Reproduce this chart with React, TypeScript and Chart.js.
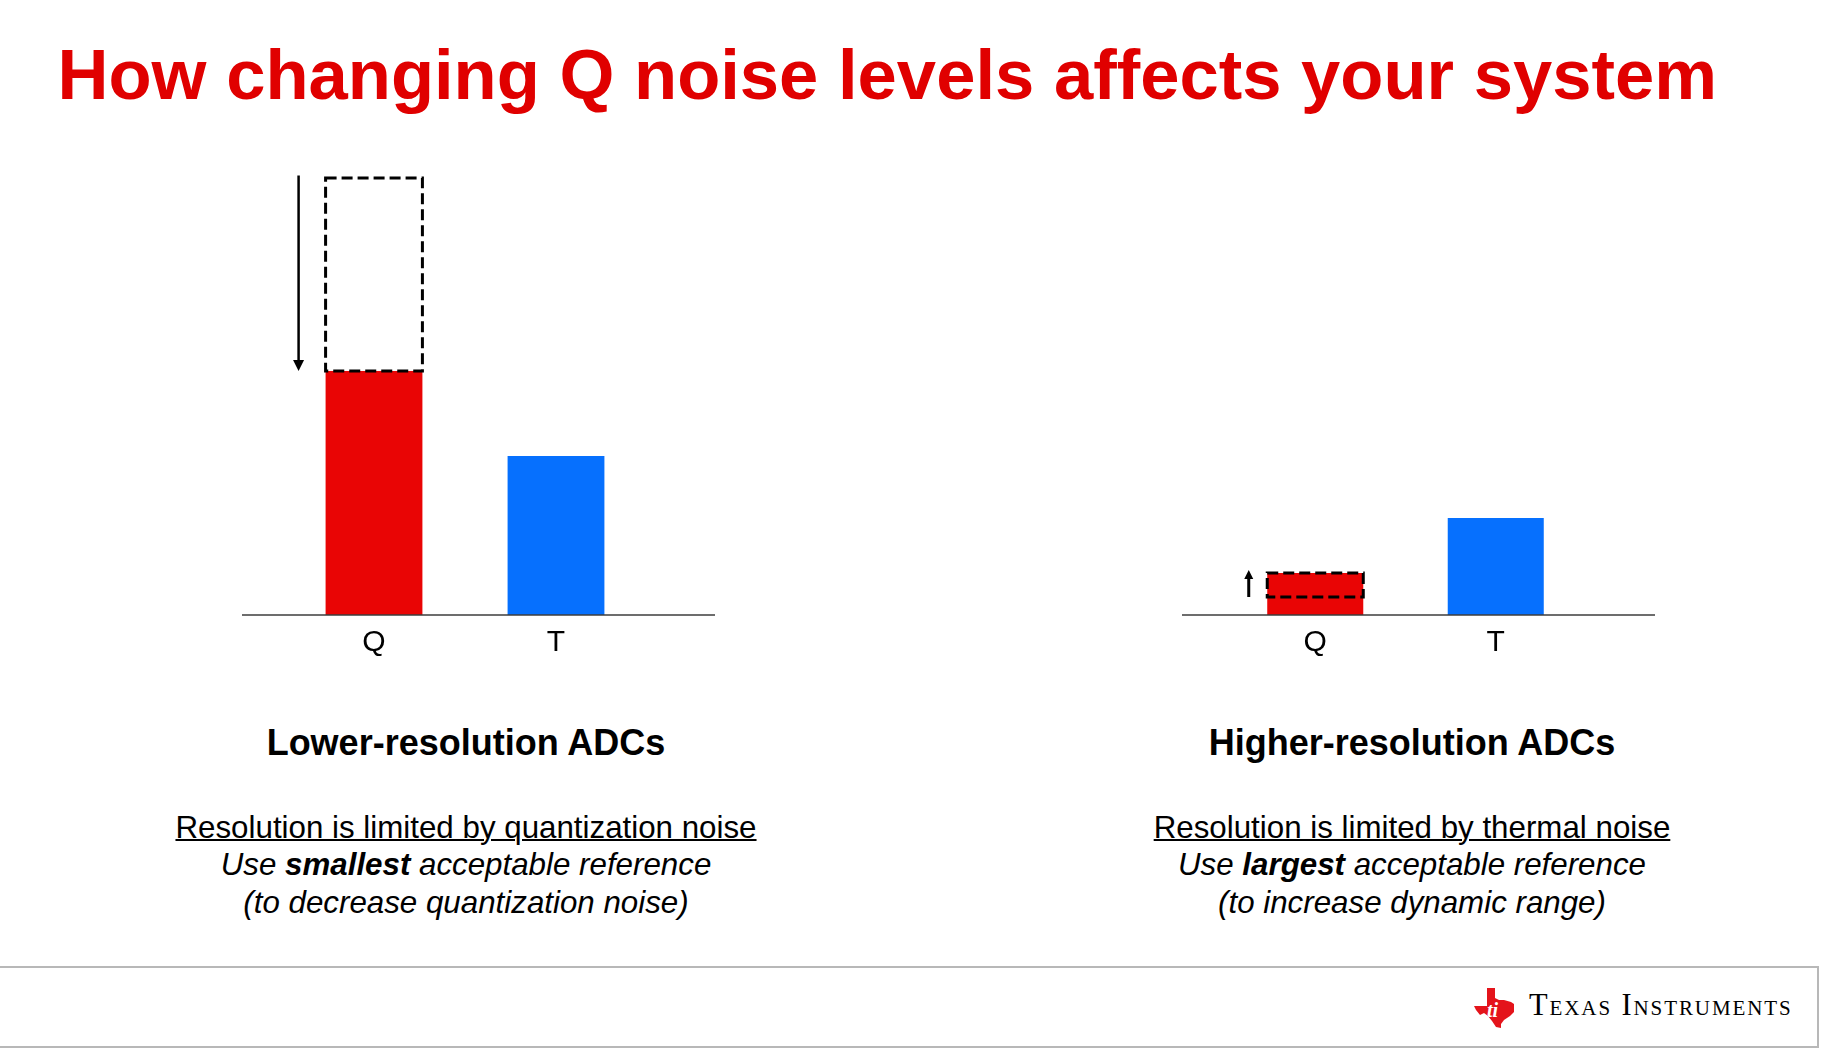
import React, { useEffect, useRef } from 'react';
import { Chart, registerables } from 'chart.js';

Chart.register(...registerables);

// ---- data ----
const categories = ['Q', 'T'];
const lowerResValues = [24.4, 15.9]; // current Q noise, thermal noise
const lowerResPrevQ = 43.7; // previous Q noise level (dashed)
const higherResValues = [4.2, 9.7];
const higherResPrevQ = 1.8;
const yMax = 44.5;

const titleText = 'How changing Q noise levels affects your system';
const leftHeading = 'Lower-resolution ADCs';
const leftLine1 = 'Resolution is limited by quantization noise';
const leftLine2 = ['Use ', 'smallest', ' acceptable reference'];
const leftLine3 = '(to decrease quantization noise)';
const rightHeading = 'Higher-resolution ADCs';
const rightLine1 = 'Resolution is limited by thermal noise';
const rightLine2 = ['Use ', 'largest', ' acceptable reference'];
const rightLine3 = '(to increase dynamic range)';

const RED = '#E90505';
const BLUE = '#0670FE';
const TITLE_RED = '#E00000';
const FONT = '"Liberation Sans", Arial, Helvetica, sans-serif';

const changePlugin = {
  id: 'qChange',
  afterDatasetsDraw(chart: any, _args: any, opts: any) {
    const { ctx } = chart;
    const y = chart.scales.y;
    const bar = chart.getDatasetMeta(0).data[0];
    const { x, width } = bar.getProps(['x', 'width'], true);
    const cur = chart.data.datasets[0].data[0] as number;
    const prev = opts.prev as number;
    const yTop = y.getPixelForValue(Math.max(prev, cur));
    const yBot = y.getPixelForValue(Math.min(prev, cur));
    const l = x - width / 2;
    const r = x + width / 2;
    ctx.save();
    // baseline across the whole panel
    const y0 = y.getPixelForValue(0);
    ctx.strokeStyle = '#3c3c3c';
    ctx.lineWidth = 1.5;
    ctx.beginPath();
    ctx.moveTo(0, y0);
    ctx.lineTo(chart.width, y0);
    ctx.stroke();
    // dashed box marking the change
    ctx.strokeStyle = '#000';
    ctx.fillStyle = '#000';
    ctx.lineWidth = 3;
    ctx.setLineDash([11, 5]);
    ctx.strokeRect(l, yTop, r - l, yBot - yTop);
    ctx.setLineDash([]);
    // arrow from previous to current level
    const ax = l - opts.gap;
    const yFrom = y.getPixelForValue(prev);
    const yTo = y.getPixelForValue(cur) + opts.tipShift;
    const dir = Math.sign(yTo - yFrom);
    ctx.lineWidth = opts.shaft;
    ctx.beginPath();
    ctx.moveTo(ax, yFrom + dir * opts.startInset);
    ctx.lineTo(ax, yTo - dir * opts.headLen * 0.8);
    ctx.stroke();
    ctx.beginPath();
    ctx.moveTo(ax, yTo);
    ctx.lineTo(ax - opts.headW / 2, yTo - dir * opts.headLen);
    ctx.lineTo(ax + opts.headW / 2, yTo - dir * opts.headLen);
    ctx.closePath();
    ctx.fill();
    ctx.restore();
  },
};

type PanelProps = {
  values: number[];
  prevQ: number;
  left: number;
  padLeft: number;
  padRight: number;
  arrow: { gap: number; shaft: number; headLen: number; headW: number; tipShift: number; startInset: number };
};

function Panel({ values, prevQ, left, padLeft, padRight, arrow }: PanelProps) {
  const ref = useRef<HTMLCanvasElement | null>(null);
  useEffect(() => {
    if (!ref.current) return;
    const chart = new Chart(ref.current, {
      type: 'bar',
      data: {
        labels: categories,
        datasets: [
          {
            data: values,
            backgroundColor: [RED, BLUE],
            borderWidth: 0,
            barPercentage: 0.532,
            categoryPercentage: 1,
          },
        ],
      },
      options: {
        animation: false,
        responsive: false,
        maintainAspectRatio: false,
        layout: { padding: { left: padLeft, right: padRight, top: 10, bottom: 0 } },
        plugins: {
          legend: { display: false },
          tooltip: { enabled: false },
          title: { display: false },
          qChange: { prev: prevQ, ...arrow },
        } as any,
        scales: {
          x: {
            grid: { display: false, drawTicks: false },
            border: { display: false },
            ticks: { color: '#000', font: { family: FONT, size: 30 }, padding: 10 },
            afterFit: (s: any) => {
              s.height = 45;
            },
          },
          y: { display: false, min: 0, max: yMax },
        },
      },
      plugins: [changePlugin as any],
    });
    return () => chart.destroy();
  }, []);
  return (
    <canvas
      ref={ref}
      width={473}
      height={500}
      style={{ position: 'absolute', left, top: 160, width: 473, height: 500 }}
    />
  );
}

function Caption({ center, heading, line1, line2, line3 }: { center: number; heading: string; line1: string; line2: string[]; line3: string }) {
  return (
    <>
      <div
        style={{
          position: 'absolute',
          left: center - 400,
          width: 800,
          top: 724.5,
          textAlign: 'center',
          fontFamily: FONT,
          fontWeight: 'bold',
          fontSize: 36,
          lineHeight: '36px',
          color: '#000',
          whiteSpace: 'nowrap',
        }}
      >
        {heading}
      </div>
      <div
        style={{
          position: 'absolute',
          left: center - 400,
          width: 800,
          top: 808.5,
          textAlign: 'center',
          fontFamily: FONT,
          fontSize: 31.3,
          lineHeight: '37.5px',
          color: '#000',
          whiteSpace: 'nowrap',
        }}
      >
        <div style={{ textDecoration: 'underline', textDecorationThickness: '2px' }}>{line1}</div>
        <div style={{ fontStyle: 'italic' }}>
          {line2[0]}
          <b>{line2[1]}</b>
          {line2[2]}
        </div>
        <div style={{ fontStyle: 'italic' }}>{line3}</div>
      </div>
    </>
  );
}

function TiLogo() {
  return (
    <svg
      width={44}
      height={42}
      viewBox="0 0 44 42"
      style={{ position: 'absolute', left: 1473, top: 987 }}
    >
      <path
        d="M14 1 L22 1 L22 11 L26 13 L31 13 L38 15 L41 17 L41 25 L37 29 L31 33 L28 37 L28 41 L23 40 L19 34 L15 29 L11 26 L7 28 L3 23 L1 19 L14 19 Z"
        fill="#E4141B"
      />
      <text x={14} y={30} fill="#fff" fontFamily='"Liberation Serif", serif' fontStyle="italic" fontWeight="bold" fontSize={20}>
        ti
      </text>
    </svg>
  );
}

export default function App() {
  return (
    <div
      style={{
        position: 'absolute',
        left: 0,
        top: 0,
        width: 1832,
        height: 1053,
        overflow: 'hidden',
        background: '#fff',
      }}
    >
      <div
        style={{
          position: 'absolute',
          left: 57.5,
          top: 40.3,
          fontFamily: FONT,
          fontWeight: 'bold',
          fontSize: 70.6,
          lineHeight: '70.6px',
          color: TITLE_RED,
          whiteSpace: 'nowrap',
        }}
      >
        {titleText}
      </div>

      <Panel
        values={lowerResValues}
        prevQ={lowerResPrevQ}
        left={242}
        padLeft={41}
        padRight={68}
        arrow={{ gap: 27, shaft: 2.5, headLen: 11, headW: 11, tipShift: 0, startInset: -2.5 }}
      />
      <Panel
        values={higherResValues}
        prevQ={higherResPrevQ}
        left={1182}
        padLeft={43}
        padRight={69}
        arrow={{ gap: 18.5, shaft: 3, headLen: 9, headW: 9, tipShift: -3, startInset: 0 }}
      />

      <Caption center={466} heading={leftHeading} line1={leftLine1} line2={leftLine2} line3={leftLine3} />
      <Caption center={1412} heading={rightHeading} line1={rightLine1} line2={rightLine2} line3={rightLine3} />

      <div
        style={{
          position: 'absolute',
          left: -10,
          top: 966,
          width: 1829,
          height: 82,
          boxSizing: 'border-box',
          border: '2px solid #b8b8b8',
        }}
      />
      <TiLogo />
      <div
        style={{
          position: 'absolute',
          left: 1529,
          top: 990,
          fontFamily: '"Liberation Serif", "Times New Roman", serif',
          fontVariant: 'small-caps',
          fontSize: 30.5,
          lineHeight: '30.5px',
          letterSpacing: '1.9px',
          color: '#000',
          whiteSpace: 'nowrap',
        }}
      >
        Texas Instruments
      </div>
    </div>
  );
}
